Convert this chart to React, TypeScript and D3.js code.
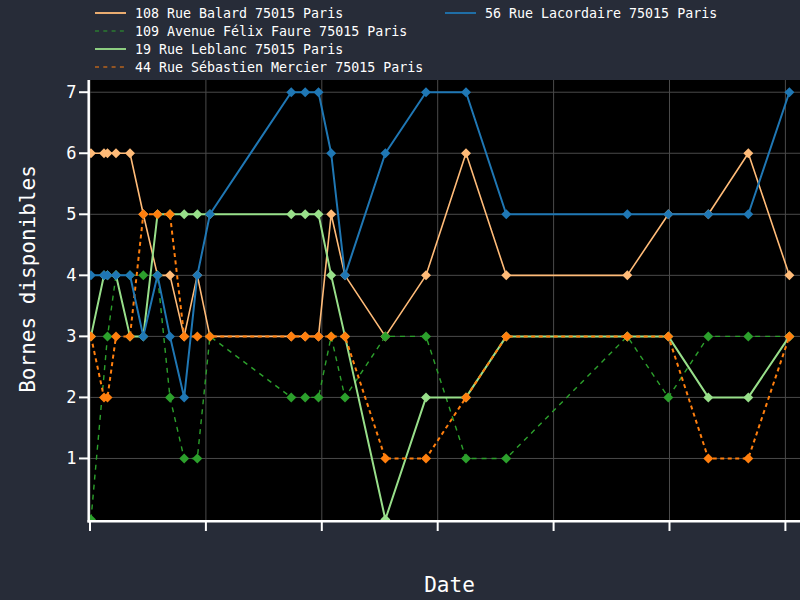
import React from "react";
import * as d3 from "d3";

// Time of each reading, in minutes after the first (unlabelled) x tick
const times = [1.0, 14.5, 18.1, 26.9, 41.4, 55.2, 69.9, 82.8, 97.5, 111.1, 124.2, 208.4, 222.8, 236.6, 249.7, 264.0, 305.8, 347.9, 389.3, 431.0, 556.3, 598.8, 640.2, 681.6, 724.1];

const balard = [6, 6, 6, 6, 6, 5, 4, 4, 3, 4, 3, 3, 3, 3, 5, 4, 3, 4, 6, 4, 4, 5, 5, 6, 4];
const felixFaure = [0, null, 3, 4, 4, 4, 4, 2, 1, 1, 3, 2, 2, 2, 3, 2, 3, 3, 1, 1, 3, 2, 3, 3, 3];
const leblanc = [3, 4, 4, 4, 3, 3, 5, 5, 5, 5, 5, 5, 5, 5, 4, 3, 0, 2, 2, 3, 3, 3, 2, 2, 3];
const mercier = [3, 2, 2, 3, 3, 5, 5, 5, 3, 3, 3, 3, 3, 3, 3, 3, 1, 1, 2, 3, 3, 3, 1, 1, 3];
const lacordaire = [4, 4, 4, 4, 4, 3, 4, 3, 2, 4, 5, 7, 7, 7, 6, 4, 6, 7, 7, 5, 5, 5, 5, 5, 7];

const seriesNames = [
  "108 Rue Balard 75015 Paris",
  "109 Avenue Félix Faure 75015 Paris",
  "19 Rue Leblanc 75015 Paris",
  "44 Rue Sébastien Mercier 75015 Paris",
  "56 Rue Lacordaire 75015 Paris",
];
const seriesValues = [balard, felixFaure, leblanc, mercier, lacordaire];

const xTickValues = [0, 120, 240, 360, 480, 600, 720];
const yTickValues = [1, 2, 3, 4, 5, 6, 7];

const styles = [
  { color: "#ffbb78", width: 1.6, dash: null, legendDash: null },
  { color: "#2ca02c", width: 1.4, dash: "5,5", legendDash: "4,4.3" },
  { color: "#98df8a", width: 2, dash: null, legendDash: null },
  { color: "#ff7f0e", width: 2, dash: "4,3.5", legendDash: "4,4.3" },
  { color: "#1f77b4", width: 2, dash: null, legendDash: null },
];

const legendPos = [
  { x: 95, y: 13 },
  { x: 95, y: 31 },
  { x: 95, y: 49 },
  { x: 95, y: 67 },
  { x: 445, y: 13 },
];

const FONT = "'DejaVu Sans Mono', monospace";

export default function App() {
  React.useEffect(() => {
    document.body.style.margin = "0";
  }, []);

  const W = 800;
  const H = 600;
  const left = 88.7;
  const top = 80;
  const bottom = 521.3;
  const right = 815;

  const x = d3.scaleLinear().domain([0, 720]).range([90, 785.4]);
  const y = d3.scaleLinear().domain([0, 7.2]).range([519.5, 80]);

  const line = d3
    .line<{ t: number; v: number }>()
    .x((d) => x(d.t))
    .y((d) => y(d.v));

  const diamond = (cx: number, cy: number, r: number) =>
    `M${cx},${cy - r}L${cx + r},${cy}L${cx},${cy + r}L${cx - r},${cy}Z`;

  return (
    <svg
      width={W}
      height={H}
      style={{ position: "fixed", left: 0, top: 0, display: "block" }}
    >
      <defs>
        <clipPath id="plotclip">
          <rect x={left} y={top} width={right - left} height={bottom - top - 0.8} />
        </clipPath>
      </defs>
      <rect x={0} y={0} width={W} height={H} fill="#272c38" />
      <rect x={left} y={top} width={right - left} height={bottom - top} fill="#000000" />

      {/* grid */}
      <g stroke="#4a4a4a" strokeWidth={1}>
        {xTickValues.map((t) => (
          <line key={"gx" + t} x1={x(t)} x2={x(t)} y1={top} y2={bottom} />
        ))}
        {yTickValues.map((v) => (
          <line key={"gy" + v} x1={left} x2={right} y1={y(v)} y2={y(v)} />
        ))}
      </g>

      {/* series */}
      <g clipPath="url(#plotclip)">
        {seriesValues.map((vals, si) => {
          const pts = vals
            .map((v, i) => ({ t: times[i], v: v as number | null }))
            .filter((d) => d.v !== null) as { t: number; v: number }[];
          const st = styles[si];
          return (
            <g key={"s" + si}>
              <path
                d={line(pts) || ""}
                fill="none"
                stroke={st.color}
                strokeWidth={st.width}
                strokeDasharray={st.dash || undefined}
                strokeLinejoin="round"
              />
              {pts.map((d, i) => (
                <path key={i} d={diamond(x(d.t), y(d.v), 5)} fill={st.color} />
              ))}
            </g>
          );
        })}
      </g>

      {/* spines */}
      <line x1={left} x2={left} y1={top} y2={bottom + 1.2} stroke="#ffffff" strokeWidth={2.5} />
      <line x1={left - 1.2} x2={right} y1={bottom} y2={bottom} stroke="#ffffff" strokeWidth={2.5} />

      {/* x ticks (no labels) */}
      {xTickValues.map((t) => (
        <line key={"xt" + t} x1={x(t)} x2={x(t)} y1={bottom} y2={531} stroke="#ffffff" strokeWidth={2} />
      ))}

      {/* y ticks */}
      {yTickValues.map((v) => (
        <g key={"yt" + v}>
          <line x1={79} x2={left} y1={y(v)} y2={y(v)} stroke="#ffffff" strokeWidth={2} />
          <text
            x={76.5}
            y={y(v)}
            textAnchor="end"
            dominantBaseline="central"
            fill="#ffffff"
            fontFamily={FONT}
            fontSize={17}
          >
            {v}
          </text>
        </g>
      ))}

      {/* axis labels */}
      <text
        x={449.5}
        y={592}
        textAnchor="middle"
        fill="#ffffff"
        fontFamily={FONT}
        fontSize={21}
      >
        Date
      </text>
      <text
        transform={`translate(35,279) rotate(-90)`}
        textAnchor="middle"
        fill="#ffffff"
        fontFamily={FONT}
        fontSize={21}
      >
        Bornes disponibles
      </text>

      {/* legend */}
      {seriesNames.map((name, i) => {
        const p = legendPos[i];
        const st = styles[i];
        return (
          <g key={"lg" + i}>
            <line
              x1={p.x}
              x2={p.x + 31}
              y1={p.y}
              y2={p.y}
              stroke={st.color}
              strokeWidth={st.legendDash ? 1.2 : 1.8}
              strokeDasharray={st.legendDash || undefined}
            />
            <text
              x={p.x + 40}
              y={p.y}
              dominantBaseline="central"
              fill="#ffffff"
              fontFamily={FONT}
              fontSize={13.3}
            >
              {name}
            </text>
          </g>
        );
      })}
    </svg>
  );
}
